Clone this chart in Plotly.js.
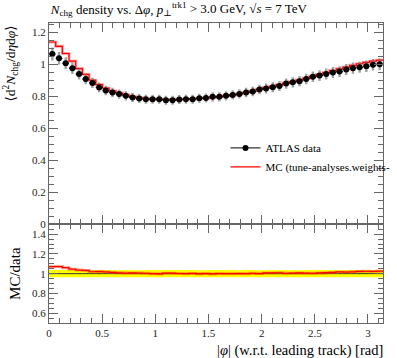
<!DOCTYPE html>
<html><head><meta charset="utf-8">
<script src="https://cdn.plot.ly/plotly-3.0.1.min.js"></script>
<style>body{margin:0;background:#fff}#c{width:397px;height:358px}</style>
</head><body><div id="c"></div><script>
// Binning: 50 equal bins of |phi| from 0 to pi
const nBins = 50;
const xMin = 0, xMax = Math.PI;

// ATLAS data (central values)
const dataVal = [
 1.066,1.039,1.008,0.977,0.941,0.909,0.885,0.857,0.837,0.825,
 0.815,0.804,0.794,0.787,0.783,0.783,0.783,0.777,0.777,0.781,
 0.783,0.783,0.789,0.790,0.798,0.798,0.804,0.810,0.816,0.825,
 0.831,0.844,0.850,0.858,0.866,0.881,0.889,0.896,0.910,0.923,
 0.931,0.941,0.950,0.956,0.969,0.977,0.983,0.989,0.998,1.002];
// total uncertainty
const dataErrTot = [
 0.040,0.039,0.037,0.036,0.034,0.033,0.032,0.031,0.030,0.030,
 0.029,0.029,0.029,0.028,0.028,0.028,0.028,0.028,0.028,0.028,
 0.028,0.028,0.028,0.028,0.029,0.029,0.029,0.029,0.029,0.030,
 0.030,0.030,0.031,0.031,0.031,0.032,0.032,0.032,0.033,0.033,
 0.034,0.034,0.034,0.034,0.035,0.035,0.035,0.036,0.036,0.036];
// statistical uncertainty
const dataErrStat = [
 0.016,0.016,0.016,0.015,0.015,0.015,0.015,0.014,0.014,0.014,
 0.014,0.014,0.014,0.014,0.014,0.014,0.014,0.014,0.014,0.014,
 0.014,0.014,0.014,0.014,0.014,0.014,0.014,0.014,0.014,0.014,
 0.014,0.014,0.014,0.014,0.014,0.015,0.015,0.015,0.015,0.015,
 0.015,0.015,0.015,0.015,0.016,0.016,0.016,0.016,0.016,0.016];
// MC prediction
const mcVal = [
 1.141,1.114,1.069,1.021,0.975,0.939,0.902,0.875,0.852,0.835,
 0.822,0.809,0.800,0.792,0.786,0.783,0.782,0.781,0.781,0.782,
 0.783,0.785,0.788,0.791,0.795,0.799,0.804,0.810,0.817,0.825,
 0.834,0.845,0.856,0.864,0.874,0.884,0.893,0.903,0.914,0.926,
 0.938,0.950,0.962,0.973,0.984,0.995,1.005,1.013,1.021,1.027];

const xTickVals = [0,0.5,1,1.5,2,2.5,3];
const xTickText = ['0','0.5','1','1.5','2','2.5','3'];
const yTickVals = [0,0.2,0.4,0.6,0.8,1,1.2];
const yTickText = ['0','0.2','0.4','0.6','0.8','1','1.2'];
const rTickVals = [0.6,0.8,1,1.2,1.4];
const rTickText = ['0.6','0.8','1','1.2','1.4'];

const titleText = '<i>N</i><sub>chg</sub> density vs. Δ<i>φ</i>, <i>p</i><sub>⊥</sub><sup>trk1</sup> > 3.0 GeV, √<i>s</i> = 7 TeV';
const yTitle = '⟨d<sup>2</sup><i>N</i><sub>chg</sub>/d<i>η</i>d<i>φ</i>⟩';
const rTitle = 'MC/data';
const xTitle = '|<i>φ</i>| (w.r.t. leading track) [rad]';
const legData = 'ATLAS data';
const legMC = 'MC (tune-analyses.weights-';

// derived bin geometry
const bw = (xMax - xMin) / nBins;
const centers = dataVal.map((_, i) => xMin + (i + 0.5) * bw);
const edges = Array.from({length: nBins + 1}, (_, i) => xMin + i * bw);
const stepY = a => a.concat([a[a.length - 1]]);
const ratioMC = mcVal.map((v, i) => v / dataVal[i]);
const relErr = dataErrTot.map((e, i) => e / dataVal[i]);
const ones = dataVal.map(() => 1);

const FONT = 'Liberation Serif, DejaVu Serif, serif';
const FC = '#666';

const traces = [
  // legend entries first
  {x: [null], y: [null], xaxis: 'x2', yaxis: 'y2', mode: 'lines+markers', name: legData,
   line: {color: '#000', width: 1}, marker: {size: 6, color: '#000'}},
  {x: [null], y: [null], xaxis: 'x2', yaxis: 'y2', mode: 'lines', name: legMC,
   line: {color: '#ff0000', width: 1.2}},
  // ratio panel: data band
  {x: edges, y: stepY(relErr.map(r => 1 - r)), xaxis: 'x', yaxis: 'y',
   mode: 'lines', line: {shape: 'hv', width: 0, color: 'rgba(0,0,0,0)'}, showlegend: false, hoverinfo: 'skip'},
  {x: edges, y: stepY(relErr.map(r => 1 + r)), xaxis: 'x', yaxis: 'y',
   mode: 'lines', line: {shape: 'hv', width: 0, color: 'rgba(0,0,0,0)'},
   fill: 'tonexty', fillcolor: '#ffff00', showlegend: false, hoverinfo: 'skip'},
  {x: edges, y: stepY(ones), xaxis: 'x', yaxis: 'y', mode: 'lines',
   line: {shape: 'hv', width: 1, color: '#333'}, showlegend: false},
  {x: edges, y: stepY(ratioMC), xaxis: 'x', yaxis: 'y', mode: 'lines',
   line: {shape: 'hv', width: 3, color: 'rgba(255,60,0,0.45)'}, showlegend: false},
  {x: edges, y: stepY(ratioMC), xaxis: 'x', yaxis: 'y', mode: 'lines',
   line: {shape: 'hv', width: 1.2, color: '#ff0000'}, showlegend: false},
  // main panel: MC
  {x: edges, y: stepY(mcVal), xaxis: 'x2', yaxis: 'y2', mode: 'lines',
   line: {shape: 'hv', width: 3, color: 'rgba(255,0,0,0.35)'}, showlegend: false},
  {x: edges, y: stepY(mcVal), xaxis: 'x2', yaxis: 'y2', mode: 'lines',
   line: {shape: 'hv', width: 1.2, color: '#ff0000'}, showlegend: false},
  // data total errors (grey)
  {x: centers, y: dataVal, xaxis: 'x2', yaxis: 'y2', mode: 'markers',
   marker: {size: 1, color: 'rgba(0,0,0,0)'},
   error_y: {type: 'data', array: dataErrTot, color: 'rgba(110,110,110,0.65)', thickness: 2.4, width: 0},
   showlegend: false},
  // data points with stat errors
  {x: centers, y: dataVal, xaxis: 'x2', yaxis: 'y2', mode: 'markers',
   marker: {size: 6, color: '#000'},
   error_y: {type: 'data', array: dataErrStat, color: '#000', thickness: 1.2, width: 0},
   error_x: {type: 'constant', value: bw / 2, color: '#000', thickness: 1.2, width: 0},
   showlegend: false}
];

const axCommon = {
  showline: true, linecolor: FC, linewidth: 1, mirror: 'ticks',
  ticks: 'inside', ticklen: 9, tickcolor: FC, tickwidth: 1,
  showgrid: false, zeroline: false,
  tickfont: {family: FONT, size: 11, color: '#222'}
};

const layout = {
  width: 397, height: 358,
  margin: {l: 49, r: 14, t: 23, b: 35, autoexpand: false},
  paper_bgcolor: '#fff', plot_bgcolor: '#fff',
  font: {family: FONT, size: 12, color: '#000'},
  title: {text: titleText, x: 0.128, xanchor: 'left', xref: 'container',
          y: 0.975, yanchor: 'middle', yref: 'container',
          font: {family: FONT, size: 13, color: '#000'}},
  xaxis: Object.assign({}, axCommon, {domain: [0, 1], anchor: 'y', range: [xMin, xMax],
          tickmode: 'array', tickvals: xTickVals, ticktext: xTickText,
          minor: {dtick: 0.1, tick0: 0, ticklen: 5, tickcolor: FC, ticks: 'inside'}}),
  yaxis: Object.assign({}, axCommon, {domain: [0, 0.329], anchor: 'x', range: [0.5, 1.5],
          tickmode: 'array', tickvals: rTickVals, ticktext: rTickText,
          minor: {dtick: 0.05, tick0: 0, ticklen: 5, tickcolor: FC, ticks: 'inside'},
          title: {text: rTitle, font: {family: FONT, size: 15}, standoff: 7}}),
  xaxis2: Object.assign({}, axCommon, {domain: [0, 1], anchor: 'y2', range: [xMin, xMax],
          matches: 'x', showticklabels: false,
          tickmode: 'array', tickvals: xTickVals, ticktext: xTickText,
          minor: {dtick: 0.1, tick0: 0, ticklen: 5, tickcolor: FC, ticks: 'inside'}}),
  yaxis2: Object.assign({}, axCommon, {domain: [0.329, 1], anchor: 'x2', range: [0, 1.26],
          tickmode: 'array', tickvals: yTickVals, ticktext: yTickText,
          minor: {dtick: 0.05, tick0: 0, ticklen: 5, tickcolor: FC, ticks: 'inside'}}),
  showlegend: true,
  legend: {x: 0.5285, y: 0.632, xanchor: 'left', yanchor: 'top', bgcolor: 'rgba(0,0,0,0)',
           font: {family: FONT, size: 11}, tracegroupgap: 0, itemwidth: 30, traceorder: 'normal'},
  annotations: [
    {text: xTitle, xref: 'paper', yref: 'paper', x: 1, y: 0, xanchor: 'right', yanchor: 'top',
     yshift: -17, xshift: 2, showarrow: false, font: {family: FONT, size: 14.5}},
    {text: yTitle, xref: 'paper', yref: 'paper', x: 0, y: 1, xanchor: 'right', yanchor: 'top',
     xshift: -27, yshift: -1, textangle: -90, showarrow: false, font: {family: FONT, size: 13.5}}
  ]
};

Plotly.newPlot('c', traces, layout, {staticPlot: true, displayModeBar: false});
</script></body></html>
